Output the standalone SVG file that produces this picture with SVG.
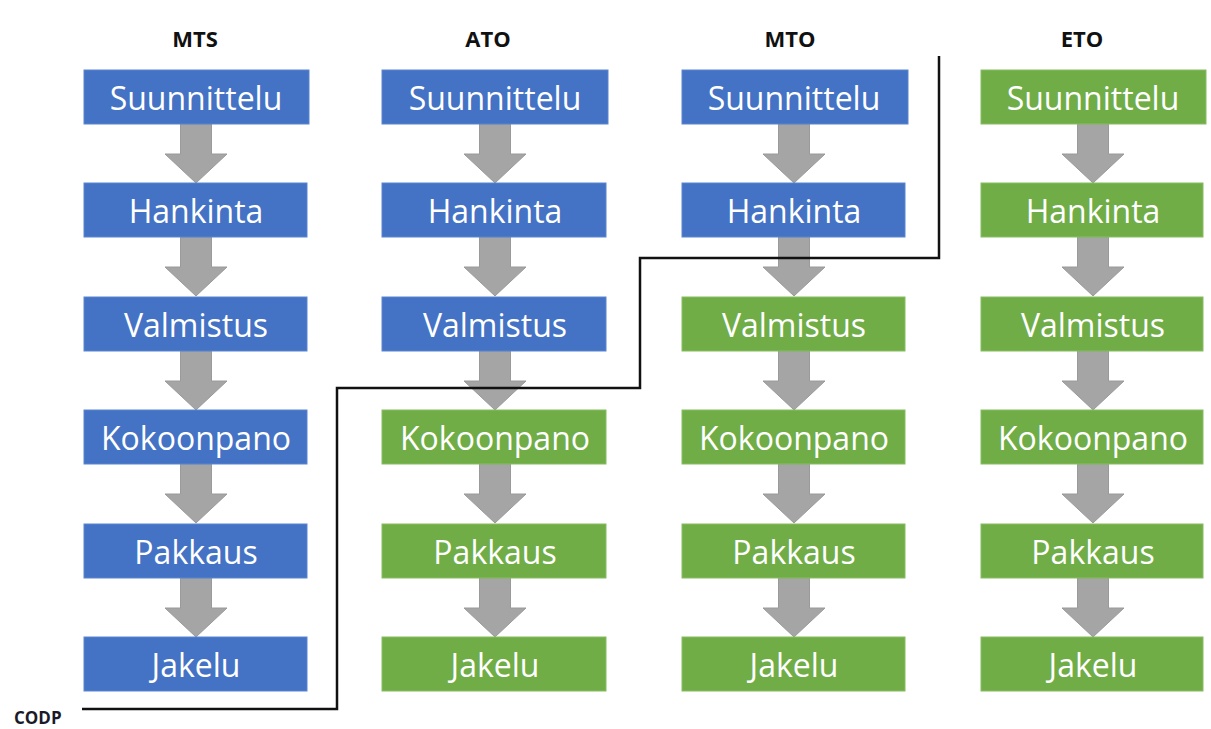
<svg xmlns="http://www.w3.org/2000/svg" width="1211" height="729" viewBox="0 0 1211 729">
  <defs>
    <style>
      .hdr { font-family: "Open Sans", "Liberation Sans", sans-serif; font-weight: bold; font-size: 22px; fill: #111; text-anchor: middle; }
      .lbl { font-family: "Open Sans", "Liberation Sans", sans-serif; font-size: 32px; fill: #fff; text-anchor: middle; }
      .blue { fill: #4472C4; stroke: #5b86d0; stroke-width: 1; }
      .green { fill: #70AD47; stroke: #86bd63; stroke-width: 1; }
      .arrow { fill: #A5A5A5; stroke: #9a9a9a; stroke-width: 1; }
      .codp { fill: none; stroke: #111; stroke-width: 2.5; }
      .note { font-family: "Open Sans", "Liberation Sans", sans-serif; font-weight: bold; font-size: 17px; fill: #1a1a2a; }
    </style>
    <!-- block arrow pointing down, origin at the shaft's top centre -->
    <path id="down" class="arrow" d="M -15.5 0 H 15.5 V 30 H 31 L 0 59 L -31 30 H -15.5 Z"/>
  </defs>
  <rect width="1211" height="729" fill="#fff"/>

  <!-- column headings -->
  <g id="headers">
    <text class="hdr" x="195" y="47">MTS</text>
    <text class="hdr" x="488" y="47">ATO</text>
    <text class="hdr" x="790" y="47">MTO</text>
    <text class="hdr" x="1082" y="47">ETO</text>
  </g>

  <!-- flow arrows between steps -->
  <g id="connectors">
    <use href="#down" x="196" y="124"/>
    <use href="#down" x="196" y="237"/>
    <use href="#down" x="196" y="351"/>
    <use href="#down" x="196" y="464"/>
    <use href="#down" x="196" y="578"/>

    <use href="#down" x="495" y="124"/>
    <use href="#down" x="495" y="237"/>
    <use href="#down" x="495" y="351"/>
    <use href="#down" x="495" y="464"/>
    <use href="#down" x="495" y="578"/>

    <use href="#down" x="794" y="124"/>
    <use href="#down" x="794" y="237"/>
    <use href="#down" x="794" y="351"/>
    <use href="#down" x="794" y="464"/>
    <use href="#down" x="794" y="578"/>

    <use href="#down" x="1093" y="124"/>
    <use href="#down" x="1093" y="237"/>
    <use href="#down" x="1093" y="351"/>
    <use href="#down" x="1093" y="464"/>
    <use href="#down" x="1093" y="578"/>
  </g>

  <!-- MTS column -->
  <g id="mts-suunnittelu"><rect class="blue" x="84" y="70" width="225" height="54"/><text class="lbl" x="196" y="110">Suunnittelu</text></g>
  <g id="mts-hankinta"><rect class="blue" x="84" y="183" width="223" height="54"/><text class="lbl" x="196" y="223">Hankinta</text></g>
  <g id="mts-valmistus"><rect class="blue" x="84" y="297" width="223" height="54"/><text class="lbl" x="196" y="337">Valmistus</text></g>
  <g id="mts-kokoonpano"><rect class="blue" x="84" y="410" width="223" height="54"/><text class="lbl" x="196" y="450">Kokoonpano</text></g>
  <g id="mts-pakkaus"><rect class="blue" x="84" y="524" width="223" height="54"/><text class="lbl" x="196" y="564">Pakkaus</text></g>
  <g id="mts-jakelu"><rect class="blue" x="84" y="637" width="223" height="54"/><text class="lbl" x="196" y="677">Jakelu</text></g>

  <!-- ATO column -->
  <g id="ato-suunnittelu"><rect class="blue" x="382" y="70" width="226" height="54"/><text class="lbl" x="495" y="110">Suunnittelu</text></g>
  <g id="ato-hankinta"><rect class="blue" x="382" y="183" width="224" height="54"/><text class="lbl" x="495" y="223">Hankinta</text></g>
  <g id="ato-valmistus"><rect class="blue" x="382" y="297" width="224" height="54"/><text class="lbl" x="495" y="337">Valmistus</text></g>
  <g id="ato-kokoonpano"><rect class="green" x="382" y="410" width="224" height="54"/><text class="lbl" x="495" y="450">Kokoonpano</text></g>
  <g id="ato-pakkaus"><rect class="green" x="382" y="524" width="224" height="54"/><text class="lbl" x="495" y="564">Pakkaus</text></g>
  <g id="ato-jakelu"><rect class="green" x="382" y="637" width="224" height="54"/><text class="lbl" x="495" y="677">Jakelu</text></g>

  <!-- MTO column -->
  <g id="mto-suunnittelu"><rect class="blue" x="682" y="70" width="226" height="54"/><text class="lbl" x="794" y="110">Suunnittelu</text></g>
  <g id="mto-hankinta"><rect class="blue" x="682" y="183" width="223" height="54"/><text class="lbl" x="794" y="223">Hankinta</text></g>
  <g id="mto-valmistus"><rect class="green" x="682" y="297" width="223" height="54"/><text class="lbl" x="794" y="337">Valmistus</text></g>
  <g id="mto-kokoonpano"><rect class="green" x="682" y="410" width="223" height="54"/><text class="lbl" x="794" y="450">Kokoonpano</text></g>
  <g id="mto-pakkaus"><rect class="green" x="682" y="524" width="223" height="54"/><text class="lbl" x="794" y="564">Pakkaus</text></g>
  <g id="mto-jakelu"><rect class="green" x="682" y="637" width="223" height="54"/><text class="lbl" x="794" y="677">Jakelu</text></g>

  <!-- ETO column -->
  <g id="eto-suunnittelu"><rect class="green" x="981" y="70" width="225" height="54"/><text class="lbl" x="1093" y="110">Suunnittelu</text></g>
  <g id="eto-hankinta"><rect class="green" x="981" y="183" width="222" height="54"/><text class="lbl" x="1093" y="223">Hankinta</text></g>
  <g id="eto-valmistus"><rect class="green" x="981" y="297" width="222" height="54"/><text class="lbl" x="1093" y="337">Valmistus</text></g>
  <g id="eto-kokoonpano"><rect class="green" x="981" y="410" width="222" height="54"/><text class="lbl" x="1093" y="450">Kokoonpano</text></g>
  <g id="eto-pakkaus"><rect class="green" x="981" y="524" width="222" height="54"/><text class="lbl" x="1093" y="564">Pakkaus</text></g>
  <g id="eto-jakelu"><rect class="green" x="981" y="637" width="222" height="54"/><text class="lbl" x="1093" y="677">Jakelu</text></g>

  <!-- customer order decoupling point boundary -->
  <g id="codp">
    <polyline class="codp" points="82,709 337,709 337,388 640,388 640,258 939,258 939,56"/>
    <text class="note" x="14" y="724">CODP</text>
  </g>
</svg>
